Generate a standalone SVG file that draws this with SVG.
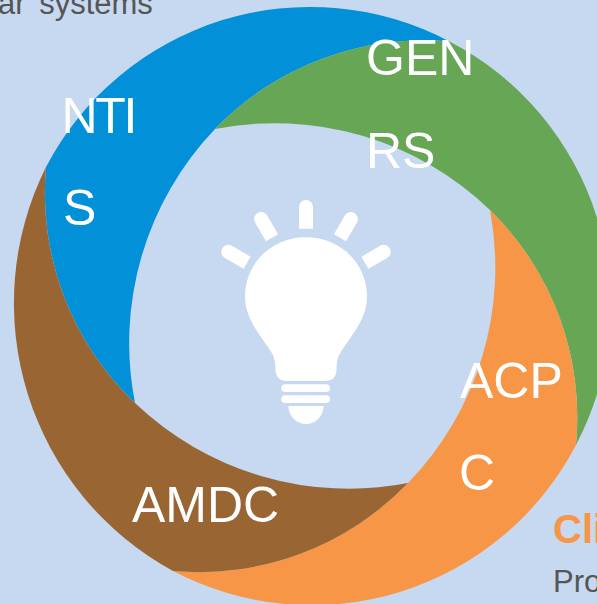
<svg xmlns="http://www.w3.org/2000/svg" xmlns:xlink="http://www.w3.org/1999/xlink" width="597" height="604" viewBox="0 0 597 604">
<style>
text{font-family:"Liberation Sans",Arial,sans-serif}
.lab{font-size:50px;fill:#fff}
.body{font-size:31px;fill:#555}
.head{font-size:40px;font-weight:bold;fill:#F79646}
.bulb{fill:#fff}
</style>
<defs>
<path id="ray" d="M299,228.700 V207 A7 7 0 0 1 313,207 V228.700 Z"/>
</defs>
<rect width="597" height="604" fill="#C6D9F1"/>
<text class="body" x="-2" y="13.500" word-spacing="5">ar systems</text>
<g id="ntis">
<path fill="#0291D8" d="M46,167 A298 298 0 0 1 449.500,41.500 A290 290 0 0 0 215,129 A310 310 0 0 0 135,403 A290 290 0 0 1 46,167 Z"/>
<text class="lab" x="61.500" y="133" textLength="76" lengthAdjust="spacing">NTI</text>
<text class="lab" x="63" y="225">S</text>
</g>
<g id="genrs">
<path fill="#66A655" d="M449.500,41.500 A298 298 0 0 1 576,445 A290 290 0 0 0 490,210 A310 310 0 0 0 215,129 A290 290 0 0 1 449.500,41.500 Z"/>
<text class="lab" x="366" y="75">GEN</text>
<text class="lab" x="366" y="168">RS</text>
</g>
<g id="acpc">
<path fill="#F79646" d="M576,445 A298 298 0 0 1 173,571 A290 290 0 0 0 408,483 A310 310 0 0 0 490,210 A290 290 0 0 1 576,445 Z"/>
<text class="lab" x="460" y="398">ACP</text>
<text class="lab" x="459" y="490">C</text>
</g>
<g id="amdc">
<path fill="#996633" d="M173,571 A305 305 0 0 1 46,167 A290 290 0 0 0 135,403 A310 310 0 0 0 408,483 A290 290 0 0 1 173,571 Z"/>
<text class="lab" x="132" y="522">AMDC</text>
</g>
<g id="bulb" class="bulb">
<path d="M245,296.700 C245,263 272,237.300 306,237.300 C340,237.300 367,263 367,296.700 C367,318 352,335 342,350 C336,359 337,364 336.500,370 C336,378 332,381 324,381 H288 C280,381 276,378 275.500,370 C275,364 276,359 270,350 C260,335 245,318 245,296.700 Z"/>
<rect x="281.300" y="384.300" width="48.700" height="7.700" rx="3.800"/>
<rect x="281.300" y="395.300" width="48.700" height="7.700" rx="3.800"/>
<path d="M288.300,406 H323.700 C323,417 315,424 306,424 C297,424 289,417 288.300,406 Z"/>
<use xlink:href="#ray" href="#ray"/>
<use xlink:href="#ray" href="#ray" transform="rotate(-30 306 296.700)"/>
<use xlink:href="#ray" href="#ray" transform="rotate(-60 306 296.700)"/>
<use xlink:href="#ray" href="#ray" transform="rotate(30 306 296.700)"/>
<use xlink:href="#ray" href="#ray" transform="rotate(60 306 296.700)"/>
</g>
<text class="head" x="553" y="543">Cli</text>
<text class="body" x="553" y="592">Pro</text>
</svg>
